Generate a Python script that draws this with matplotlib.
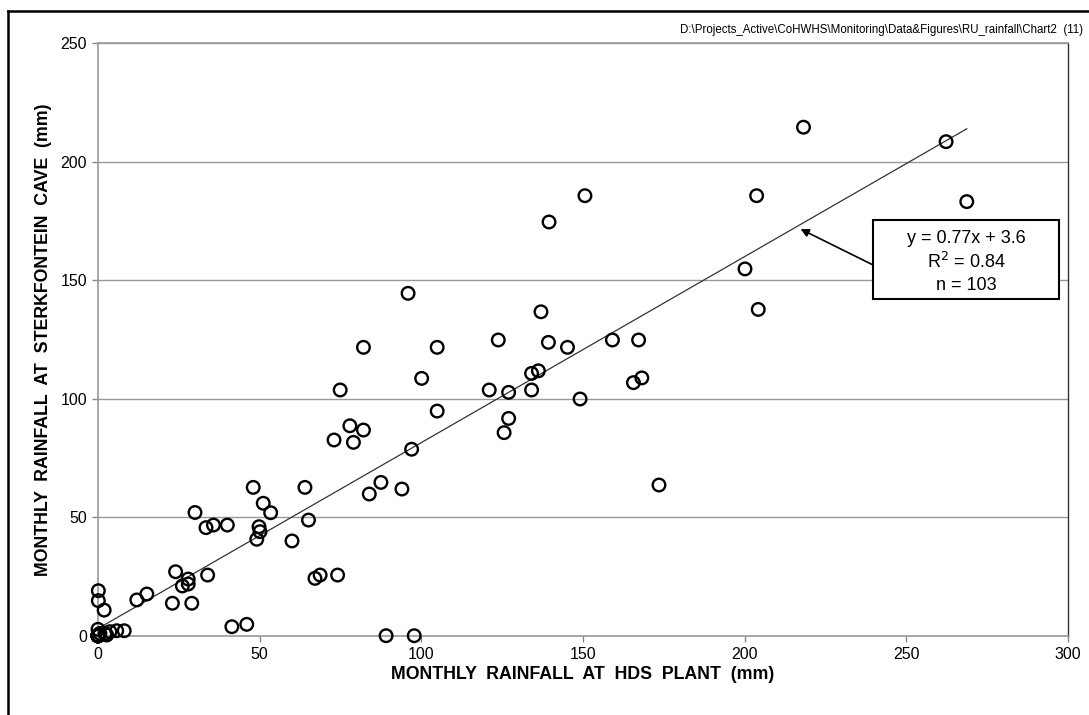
import numpy as np
import matplotlib
matplotlib.use("Agg")
from matplotlib import pyplot as plt
from matplotlib.patches import Rectangle
from matplotlib.lines import Line2D

plt.rcParams['font.family'] = ['Liberation Sans', 'DejaVu Sans']

# monthly rainfall (mm): HDS plant (x) vs Sterkfontein cave (y)
hds_plant = [
    48.0, 30.0, 51.1, 53.4, 33.4, 35.7, 40.0, 49.8, 50.1, 49.1,
    60.0, 24.0, 27.9, 27.9, 26.1, 33.9, 12.0, 15.1, 23.0, 29.0,
    0.1, 0.1, 1.9, 41.4, 46.0, 137.0, 82.1, 104.9, 123.8, 139.3,
    145.2, 100.1, 134.1, 136.2, 74.9, 121.0, 127.0, 134.1, 104.9, 127.0,
    125.6, 77.9, 82.1, 73.0, 79.0, 97.0, 64.0, 87.5, 83.9, 94.0,
    65.1, 67.1, 68.7, 74.1, 89.1, 97.8, 149.1, 150.6, 203.7, 200.1,
    204.2, 159.1, 167.2, 165.6, 168.2, 139.5, 173.5, 95.9, 218.2, 262.3,
    268.7,
    # dry months piled up near the origin
    0.0, 0.0, 0.6, 2.2, 3.7, 5.8, 8.1, 2.7, 0.0, 0.0,
    0.0, 0.0, 0.0, 0.0, 0.0, 0.0, 0.0, 0.0, 0.0, 0.0,
    0.0, 0.0, 0.0, 0.0, 0.0, 0.0, 0.0, 0.0, 0.0, 0.0,
    0.0, 0.0,
]
sterkfontein = [
    62.6, 52.0, 55.9, 51.9, 45.6, 46.7, 46.7, 46.0, 43.9, 40.7,
    40.0, 27.0, 23.9, 21.8, 21.0, 25.6, 15.1, 17.6, 13.7, 13.7,
    19.0, 14.8, 10.8, 3.8, 4.8, 136.7, 121.7, 121.7, 124.8, 123.8,
    121.7, 108.6, 110.7, 111.8, 103.7, 103.7, 102.7, 103.7, 94.8, 91.7,
    85.7, 88.6, 86.8, 82.6, 81.6, 78.7, 62.6, 64.7, 59.8, 61.9,
    48.8, 24.2, 25.6, 25.6, 0.0, 0.0, 99.9, 185.7, 185.7, 154.8,
    137.7, 124.8, 124.8, 106.8, 108.8, 174.6, 63.6, 144.5, 214.6, 208.5,
    183.2,
    0.0, 2.7, 1.0, 1.0, 1.7, 2.1, 2.1, 0.3, 0.0, 0.0,
    0.0, 0.0, 0.0, 0.0, 0.0, 0.0, 0.0, 0.0, 0.0, 0.0,
    0.0, 0.0, 0.0, 0.0, 0.0, 0.0, 0.0, 0.0, 0.0, 0.0,
    0.0, 0.0,
]

# linear trend as drawn on the chart
trend_slope = 0.785
trend_intercept = 3.0
fit_text = ["y = 0.77x + 3.6", "R$^2$ = 0.84", "n = 103"]

xticks = [0, 50, 100, 150, 200, 250, 300]
yticks = [0, 50, 100, 150, 200, 250]

fig = plt.figure(figsize=(10.89, 7.15), dpi=100)
ax = fig.add_axes([0.090, 0.1109, 0.8907, 0.8285])

ax.set_xlim(0, 300)
ax.set_ylim(0, 250)
ax.set_xticks(xticks)
ax.set_yticks(yticks)
ax.yaxis.grid(True, color='#999999', linewidth=1)
ax.set_axisbelow(True)
ax.tick_params(axis='both', direction='out', length=4, width=1,
               color='#888888', labelsize=11.5, pad=4)

for side in ['left', 'bottom', 'top']:
    ax.spines[side].set_color('#999999')
    ax.spines[side].set_linewidth(1.2)
ax.spines['right'].set_color('#333333')
ax.spines['right'].set_linewidth(1)

# trend line over the range of the data
xs = np.array([0, max(hds_plant)])
ax.plot(xs, trend_slope * xs + trend_intercept, color='#333333', linewidth=0.9, zorder=2)

ax.scatter(hds_plant, sterkfontein, s=82, facecolors='none', edgecolors='black',
           linewidths=1.7, zorder=3, clip_on=False)

ax.set_xlabel('MONTHLY  RAINFALL  AT  HDS  PLANT  (mm)', fontsize=12.8,
              fontweight='bold', labelpad=3)
ax.set_ylabel('MONTHLY  RAINFALL  AT  STERKFONTEIN  CAVE  (mm)', fontsize=12.8,
              fontweight='bold', labelpad=6)

# equation box with arrow pointing to the trend line
ax.add_patch(Rectangle((0.799, 0.568), 0.192, 0.134, transform=ax.transAxes,
                       facecolor='white', edgecolor='black', linewidth=1.5, zorder=5))
for i, line in enumerate(fit_text):
    ax.text(0.895, 0.671 - i * 0.0395, line, transform=ax.transAxes,
            ha='center', va='center', fontsize=13, zorder=6)
ax.annotate('', xy=(217.3, 171.6), xytext=(239.8, 156.4),
            arrowprops=dict(arrowstyle='-|>', color='black', linewidth=1.2,
                            mutation_scale=12, shrinkA=0, shrinkB=0), zorder=4)

fig.text(0.9945, 0.958,
         'D:\\Projects_Active\\CoHWHS\\Monitoring\\Data&Figures\\RU_rainfall\\Chart2  (11)',
         ha='right', va='center', fontsize=8.3)

# outer frame (top and left edges visible)
fig.add_artist(Line2D([8 / 1089, 1], [1 - 11 / 715, 1 - 11 / 715],
                      transform=fig.transFigure, color='black', linewidth=1.8))
fig.add_artist(Line2D([8 / 1089, 8 / 1089], [0, 1 - 11 / 715],
                      transform=fig.transFigure, color='black', linewidth=1.8))

fig.savefig('out.png', dpi=100, facecolor='white')
